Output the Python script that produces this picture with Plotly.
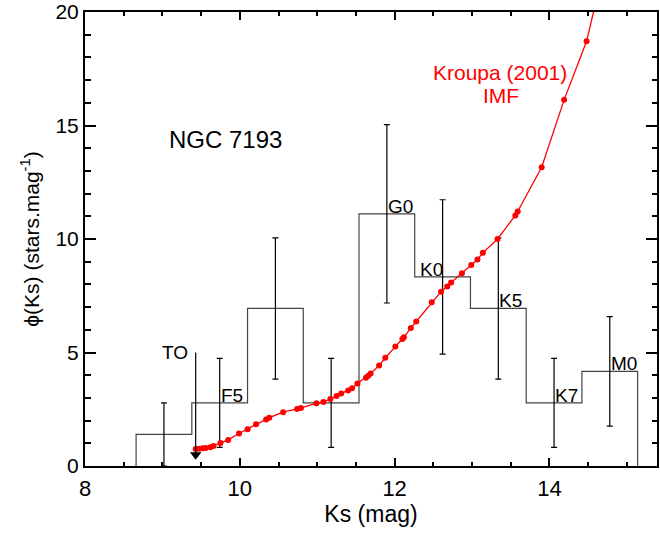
import plotly.graph_objects as go

# ---------------- data ----------------
bin_centers = [9.02, 9.74, 10.46, 11.18, 11.90, 12.62, 13.34, 14.06, 14.78]
bin_width = 0.72
phi = [1.39, 2.78, 6.94, 2.78, 11.11, 8.33, 6.94, 2.78, 4.17]
phi_err = [1.39, 1.96, 3.11, 1.96, 3.93, 3.40, 3.11, 1.96, 2.41]

imf_ks = [9.43, 9.475, 9.52, 9.56, 9.62, 9.66, 9.75, 9.85, 9.99, 10.10, 10.21,
          10.34, 10.38, 10.56, 10.74, 10.79, 10.99, 11.08, 11.17, 11.25, 11.31,
          11.40, 11.45, 11.52, 11.63, 11.66, 11.69, 11.80, 11.88, 12.01, 12.10,
          12.12, 12.21, 12.28, 12.48, 12.60, 12.68, 12.73, 12.87, 12.99, 13.07,
          13.14, 13.33, 13.56, 13.59, 13.90, 14.19, 14.48, 14.78]
imf_phi = [0.75, 0.76, 0.78, 0.79, 0.83, 0.88, 1.01, 1.15, 1.43, 1.62, 1.84,
           2.05, 2.13, 2.37, 2.51, 2.56, 2.76, 2.82, 2.95, 3.08, 3.19,
           3.33, 3.43, 3.63, 3.89, 3.98, 4.07, 4.43, 4.77, 5.26, 5.60,
           5.67, 6.08, 6.37, 7.21, 7.68, 7.91, 8.08, 8.49, 8.85, 9.10,
           9.39, 10.00, 11.04, 11.21, 13.16, 16.13, 18.71, 23.0]

spec_labels = ["F5", "G0", "K0", "K5", "K7", "M0"]
spec_x = [9.74, 11.90, 12.31, 13.34, 14.06, 14.78]
spec_y = [2.78, 11.11, 8.33, 6.94, 2.78, 4.17]

to_ks = 9.43
to_top = 5.0
to_arrow = 0.5

x_range = [8, 15.39]
y_range = [0, 20]

FONT = "Liberation Sans, Arial, Helvetica, sans-serif"

# ---------------- histogram geometry ----------------
edges = [c - bin_width / 2 for c in bin_centers] + [bin_centers[-1] + bin_width / 2]
hist_x = [edges[0]] + edges
hist_y = [0] + phi + [0]

fig = go.Figure()

fig.add_trace(go.Scatter(
    x=hist_x, y=hist_y, mode="lines", line=dict(color="#444444", width=1.2, shape="hv"),
    showlegend=False, hoverinfo="skip"))

fig.add_trace(go.Scatter(
    x=bin_centers, y=phi, mode="markers", marker=dict(size=1, opacity=0),
    error_y=dict(type="data", array=phi_err, visible=True, color="black",
                 thickness=1.2, width=3),
    showlegend=False))

fig.add_trace(go.Scatter(
    x=imf_ks, y=imf_phi, mode="lines+markers",
    line=dict(color="#ff0000", width=1.3),
    marker=dict(color="#ff0000", size=6),
    showlegend=False))

# turn-off marker
fig.add_trace(go.Scatter(
    x=[to_ks, to_ks], y=[to_arrow, to_top], mode="lines",
    line=dict(color="black", width=1.2), showlegend=False))
fig.add_trace(go.Scatter(
    x=[to_ks], y=[to_arrow], mode="markers",
    marker=dict(symbol="triangle-down", size=10, color="black"),
    showlegend=False))

annotations = []
annotations.append(dict(x=to_ks, y=to_top, text="TO", showarrow=False,
                        xanchor="right", yanchor="middle", xshift=-6,
                        font=dict(family=FONT, size=19, color="black")))
for lab, xx, yy in zip(spec_labels, spec_x, spec_y):
    annotations.append(dict(x=xx, y=yy, text=lab, showarrow=False,
                            xanchor="left", yanchor="bottom", yshift=-5, xshift=-1,
                            font=dict(family=FONT, size=19, color="black")))
annotations.append(dict(x=9.81, y=14.39, text="NGC 7193", showarrow=False,
                        xanchor="center", yanchor="middle",
                        font=dict(family=FONT, size=24, color="black")))
annotations.append(dict(x=13.36, y=17.34, text="Kroupa (2001)", showarrow=False,
                        xanchor="center", yanchor="middle",
                        font=dict(family=FONT, size=21, color="#ff0000")))
annotations.append(dict(x=13.38, y=16.30, text="IMF", showarrow=False,
                        xanchor="center", yanchor="middle",
                        font=dict(family=FONT, size=21, color="#ff0000")))

fig.update_layout(
    width=660, height=533,
    margin=dict(l=85, r=3, t=12, b=67),
    paper_bgcolor="white", plot_bgcolor="white",
    font=dict(family=FONT, color="black"),
    annotations=annotations,
    showlegend=False,
)

fig.update_xaxes(
    range=x_range, showgrid=False, zeroline=False, automargin=False,
    showline=True, linecolor="black", linewidth=2, mirror="ticks",
    ticks="inside", ticklen=8, tickwidth=2, tickcolor="black",
    tick0=8, dtick=2, tickfont=dict(family=FONT, size=22), ticklabeloverflow="allow",
    ticklabelstandoff=2,
    minor=dict(dtick=0.5, ticks="inside", ticklen=4, tickwidth=2, tickcolor="black", showgrid=False),
    title=dict(text="Ks (mag)", font=dict(family=FONT, size=23), standoff=0),
)
fig.update_yaxes(
    range=y_range, showgrid=False, zeroline=False, automargin=False,
    showline=True, linecolor="black", linewidth=2, mirror="ticks",
    ticks="inside", ticklen=11, tickwidth=2, tickcolor="black",
    tick0=0, dtick=5, tickfont=dict(family=FONT, size=21), ticklabeloverflow="allow",
    minor=dict(dtick=1, ticks="inside", ticklen=5.5, tickwidth=2, tickcolor="black", showgrid=False),
    title=dict(text="\u03d5(Ks) (stars.mag<sup>-1</sup>)", font=dict(family=FONT, size=21), standoff=10),
)

fig.write_html("out.html", config={"displayModeBar": False},
               post_script="document.body.style.margin='0';")
